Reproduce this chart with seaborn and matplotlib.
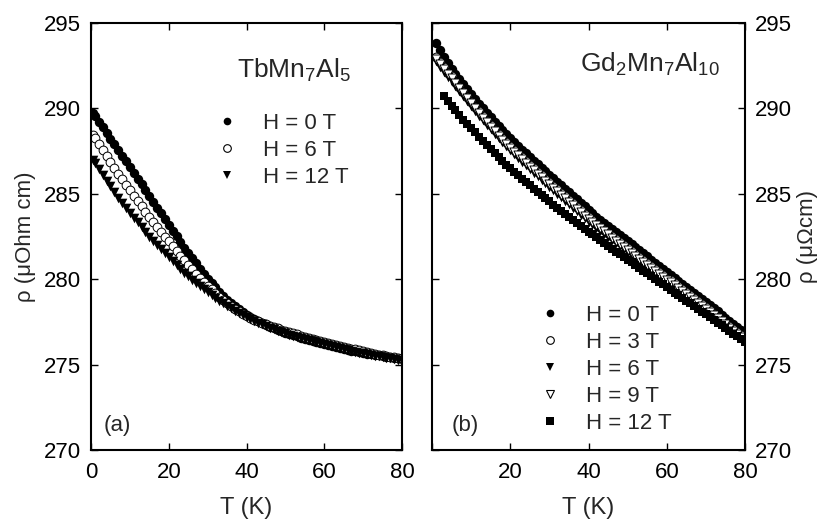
import matplotlib
matplotlib.use("Agg")
import matplotlib.pyplot as plt
import seaborn as sns
import pandas as pd
from matplotlib.lines import Line2D

# ---------------- data ----------------
T_A = [0.5] + list(range(1, 81))
RHO_A_0T = [289.73, 289.57, 289.23, 288.90, 288.57, 288.23, 287.90, 287.57, 287.23, 286.90,
            286.56, 286.22, 285.88, 285.55, 285.21, 284.87, 284.53, 284.19, 283.85, 283.51,
            283.17, 282.84, 282.51, 282.18, 281.85, 281.52, 281.22, 280.92, 280.62, 280.32,
            280.02, 279.77, 279.52, 279.27, 279.02, 278.77, 278.60, 278.43, 278.26, 278.09,
            277.92, 277.80, 277.68, 277.56, 277.44, 277.32, 277.23, 277.14, 277.05, 276.96,
            276.87, 276.80, 276.72, 276.65, 276.57, 276.50, 276.44, 276.37, 276.31, 276.24,
            276.18, 276.12, 276.07, 276.01, 275.96, 275.90, 275.86, 275.81, 275.77, 275.72,
            275.68, 275.64, 275.61, 275.57, 275.54, 275.50, 275.46, 275.43, 275.39, 275.36,
            275.32]
RHO_A_6T = [288.43, 288.26, 287.91, 287.56, 287.22, 286.87, 286.52, 286.17, 285.84, 285.53,
            285.21, 284.90, 284.59, 284.27, 283.96, 283.64, 283.33, 283.05, 282.77, 282.49,
            282.21, 281.93, 281.65, 281.37, 281.10, 280.83, 280.58, 280.33, 280.09, 279.85,
            279.62, 279.40, 279.18, 278.96, 278.77, 278.59, 278.42, 278.26, 278.11, 277.97,
            277.84, 277.73, 277.63, 277.53, 277.44, 277.35, 277.27, 277.19, 277.12, 277.05,
            276.98, 276.91, 276.84, 276.77, 276.70, 276.63, 276.57, 276.51, 276.45, 276.39,
            276.33, 276.27, 276.21, 276.15, 276.10, 276.04, 275.99, 275.94, 275.89, 275.84,
            275.79, 275.74, 275.69, 275.64, 275.59, 275.55, 275.51, 275.47, 275.43, 275.40,
            275.36]
RHO_A_12T = [287.00, 286.82, 286.47, 286.12, 285.77, 285.43, 285.10, 284.77, 284.46, 284.17,
             283.88, 283.60, 283.32, 283.04, 282.77, 282.50, 282.23, 281.99, 281.75, 281.51,
             281.28, 281.05, 280.83, 280.61, 280.39, 280.18, 279.98, 279.79, 279.60, 279.42,
             279.24, 279.07, 278.90, 278.74, 278.59, 278.44, 278.30, 278.16, 278.03, 277.90,
             277.78, 277.66, 277.55, 277.45, 277.35, 277.25, 277.16, 277.07, 276.99, 276.91,
             276.83, 276.76, 276.69, 276.62, 276.55, 276.49, 276.43, 276.37, 276.31, 276.25,
             276.19, 276.13, 276.07, 276.01, 275.95, 275.90, 275.85, 275.80, 275.75, 275.70,
             275.65, 275.61, 275.57, 275.53, 275.49, 275.45, 275.41, 275.37, 275.33, 275.29,
             275.25]

T_B = list(range(1, 81))
T_B12 = list(range(3, 81))
RHO_B_0T = [293.80, 293.40, 293.00, 292.65, 292.33, 292.02, 291.72, 291.43, 291.14, 290.85,
            290.56, 290.28, 290.01, 289.74, 289.47, 289.20, 288.96, 288.72, 288.48, 288.24,
            288.02, 287.80, 287.58, 287.36, 287.14, 286.94, 286.73, 286.53, 286.32, 286.12,
            285.91, 285.71, 285.50, 285.30, 285.09, 284.89, 284.68, 284.48, 284.27, 284.07,
            283.86, 283.66, 283.48, 283.30, 283.12, 282.94, 282.76, 282.59, 282.41, 282.23,
            282.05, 281.87, 281.69, 281.51, 281.33, 281.15, 280.97, 280.80, 280.62, 280.44,
            280.26, 280.08, 279.90, 279.72, 279.54, 279.36, 279.18, 279.01, 278.83, 278.65,
            278.47, 278.29, 278.11, 277.93, 277.75, 277.57, 277.39, 277.22, 277.04, 276.86]
RHO_B_3T = [293.00, 292.70, 292.40, 292.10, 291.88, 291.57, 291.27, 290.98, 290.69, 290.40,
            290.11, 289.83, 289.56, 289.29, 289.02, 288.75, 288.51, 288.27, 288.03, 287.79,
            287.57, 287.35, 287.13, 286.91, 286.69, 286.49, 286.28, 286.08, 285.87, 285.67,
            285.46, 285.26, 285.05, 284.85, 284.64, 284.44, 284.23, 284.03, 283.82, 283.62,
            283.46, 283.26, 283.08, 282.90, 282.72, 282.54, 282.36, 282.19, 282.01, 281.83,
            281.65, 281.47, 281.29, 281.11, 280.93, 280.75, 280.57, 280.40, 280.22, 280.04,
            279.96, 279.78, 279.60, 279.42, 279.24, 279.06, 278.88, 278.71, 278.53, 278.35,
            278.17, 277.99, 277.81, 277.63, 277.45, 277.27, 277.09, 276.92, 276.74, 276.56]
RHO_B_6T = [292.75, 292.45, 292.15, 291.85, 291.63, 291.32, 291.02, 290.73, 290.44, 290.15,
            289.86, 289.58, 289.31, 289.04, 288.77, 288.50, 288.26, 288.02, 287.78, 287.54,
            287.32, 287.10, 286.88, 286.66, 286.44, 286.24, 286.03, 285.83, 285.62, 285.42,
            285.21, 285.01, 284.80, 284.60, 284.39, 284.19, 283.98, 283.78, 283.57, 283.37,
            283.21, 283.01, 282.83, 282.65, 282.47, 282.29, 282.11, 281.94, 281.76, 281.58,
            281.40, 281.22, 281.04, 280.86, 280.68, 280.50, 280.32, 280.15, 279.97, 279.79,
            279.71, 279.53, 279.35, 279.17, 278.99, 278.81, 278.63, 278.46, 278.28, 278.10,
            277.92, 277.74, 277.56, 277.38, 277.20, 277.02, 276.84, 276.67, 276.49, 276.31]
RHO_B_9T = [292.90, 292.60, 292.30, 292.00, 291.78, 291.47, 291.17, 290.88, 290.59, 290.30,
            290.01, 289.73, 289.46, 289.19, 288.92, 288.65, 288.41, 288.17, 287.93, 287.69,
            287.47, 287.25, 287.03, 286.81, 286.59, 286.39, 286.18, 285.98, 285.77, 285.57,
            285.36, 285.16, 284.95, 284.75, 284.54, 284.34, 284.13, 283.93, 283.72, 283.52,
            283.36, 283.16, 282.98, 282.80, 282.62, 282.44, 282.26, 282.09, 281.91, 281.73,
            281.55, 281.37, 281.19, 281.01, 280.83, 280.65, 280.47, 280.30, 280.12, 279.94,
            279.86, 279.68, 279.50, 279.32, 279.14, 278.96, 278.78, 278.61, 278.43, 278.25,
            278.07, 277.89, 277.71, 277.53, 277.35, 277.17, 276.99, 276.82, 276.64, 276.46]
RHO_B_12T = [290.70, 290.42, 290.15, 289.88, 289.61, 289.35, 289.10, 288.85, 288.60, 288.35,
             288.10, 287.85, 287.60, 287.36, 287.13, 286.91, 286.70, 286.49, 286.29, 286.09,
             285.89, 285.69, 285.50, 285.31, 285.12, 284.93, 284.74, 284.55, 284.37, 284.19,
             284.01, 283.83, 283.65, 283.47, 283.30, 283.13, 282.96, 282.79, 282.62, 282.45,
             282.28, 282.11, 281.94, 281.78, 281.62, 281.46, 281.30, 281.14, 280.98, 280.82,
             280.66, 280.50, 280.34, 280.18, 280.02, 279.86, 279.70, 279.54, 279.38, 279.22,
             279.06, 278.90, 278.74, 278.58, 278.42, 278.26, 278.10, 277.94, 277.78, 277.62,
             277.46, 277.30, 277.14, 276.98, 276.82, 276.66, 276.50, 276.34]

LABELS_A = ["H = 0 T", "H = 6 T", "H = 12 T"]
LABELS_B = ["H = 0 T", "H = 3 T", "H = 6 T", "H = 9 T", "H = 12 T"]
X_TICKS = [0, 20, 40, 60, 80]
Y_TICKS = [270, 275, 280, 285, 290, 295]

# ---------------- style ----------------
sns.set_theme(style="ticks")
plt.rcParams["font.family"] = ["Liberation Sans", "DejaVu Sans"]
plt.rcParams["mathtext.fontset"] = "custom"
plt.rcParams["mathtext.rm"] = "Liberation Sans"
plt.rcParams["mathtext.it"] = "Liberation Sans:italic"
plt.rcParams["axes.linewidth"] = 1.5

fig = plt.figure(figsize=(8.31, 5.2), dpi=100)
axA = fig.add_axes([91 / 831, 70 / 520, 311 / 831, 427 / 520])
axB = fig.add_axes([432 / 831, 70 / 520, 313 / 831, 427 / 520])

STYLES = {
    "filled_o": dict(marker="o", s=46, color="black", edgecolor="black", linewidth=0),
    "open_o": dict(marker="o", s=40, color="white", edgecolor="black", linewidth=0.7),
    "filled_v": dict(marker="v", s=48, color="black", edgecolor="black", linewidth=0),
    "open_v": dict(marker="v", s=42, color="white", edgecolor="black", linewidth=0.7),
    "filled_s": dict(marker="s", s=36, color="black", edgecolor="black", linewidth=0),
}


def draw(ax, T, rho, style):
    df = pd.DataFrame({"T": T[:len(rho)], "rho": rho})
    sns.scatterplot(data=df, x="T", y="rho", ax=ax, legend=False, **STYLES[style])


draw(axA, T_A, RHO_A_0T, "filled_o")
draw(axA, T_A, RHO_A_6T, "open_o")
draw(axA, T_A, RHO_A_12T, "filled_v")

draw(axB, T_B, RHO_B_0T, "filled_o")
draw(axB, T_B, RHO_B_3T, "open_o")
draw(axB, T_B, RHO_B_6T, "filled_v")
draw(axB, T_B, RHO_B_9T, "open_v")
draw(axB, T_B12, RHO_B_12T, "filled_s")

for ax in (axA, axB):
    ax.set_xlim(0, 80)
    ax.set_ylim(270, 295)
    ax.set_xticks(X_TICKS)
    ax.set_yticks(Y_TICKS)
    ax.tick_params(direction="in", length=5, width=1, top=True, right=True,
                   labelsize=16, colors="black")
    ax.tick_params(axis="x", pad=9)
    ax.tick_params(axis="y", pad=7)
    ax.set_xlabel("T (K)", fontsize=17, labelpad=10)
    for sp in ax.spines.values():
        sp.set_linewidth(1.5)
        sp.set_color("black")

axB.set_xticklabels([""] + [str(v) for v in X_TICKS[1:]])
axB.tick_params(axis="y", labelleft=False, labelright=True)

axA.set_ylabel("ρ (μOhm cm)", fontsize=16, labelpad=6)
axB.set_ylabel("ρ (μΩcm)", fontsize=16, labelpad=4)
axB.yaxis.set_label_position("right")

axA.text(0.837, 0.871, r"TbMn$_7$Al$_5$", transform=axA.transAxes, fontsize=19,
         ha="right", va="baseline")
axB.text(0.92, 0.885, r"Gd$_2$Mn$_7$Al$_{10}$", transform=axB.transAxes, fontsize=19,
         ha="right", va="baseline")
axA.text(0.04, 0.058, "(a)", transform=axA.transAxes, fontsize=16, va="center")
axB.text(0.064, 0.058, "(b)", transform=axB.transAxes, fontsize=16, va="center")


def handle(style):
    st = STYLES[style]
    return Line2D([], [], ls="", marker=st["marker"], markersize=5.5,
                  markerfacecolor=st["color"], markeredgecolor="black",
                  markeredgewidth=0.8 if st["color"] == "white" else 0)


axA.legend([handle(s) for s in ("filled_o", "open_o", "filled_v")], LABELS_A,
           loc="upper left", bbox_to_anchor=(0.40, 0.789), frameon=False, fontsize=16,
           handlelength=1.0, handletextpad=1.13, labelspacing=0.27, borderpad=0,
           borderaxespad=0)
axB.legend([handle(s) for s in ("filled_o", "open_o", "filled_v", "open_v", "filled_s")],
           LABELS_B, loc="upper left", bbox_to_anchor=(0.342, 0.339), frameon=False,
           fontsize=16, handlelength=1.0, handletextpad=1.13, labelspacing=0.27,
           borderpad=0, borderaxespad=0)

fig.savefig("out.png", dpi=100)
